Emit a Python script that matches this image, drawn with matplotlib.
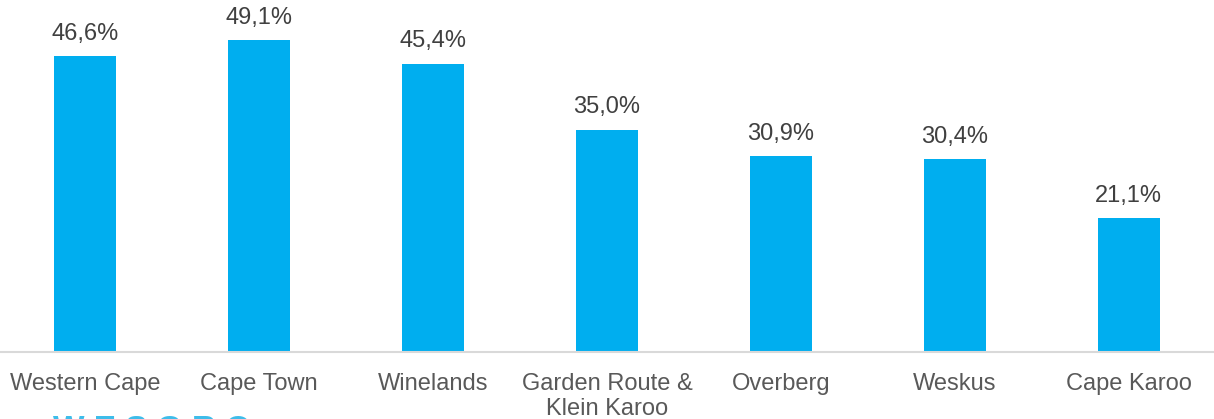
import matplotlib
matplotlib.use('Agg')
from matplotlib import pyplot as plt

# Regions and share values (%)
regions = ["Western Cape", "Cape Town", "Winelands", "Garden Route &\nKlein Karoo",
           "Overberg", "Weskus", "Cape Karoo"]
shares = [46.6, 49.1, 45.4, 35.0, 30.9, 30.4, 21.1]

plt.rcParams['font.family'] = ['Liberation Sans', 'DejaVu Sans']

fig = plt.figure(figsize=(12.14, 4.19), dpi=100)
ax = fig.add_axes([0, 0.16, 1, 0.84])

x = range(len(regions))
bars = ax.bar(x, shares, width=0.357, color='#00AEEF')

# Value labels with comma decimals
for b, v in zip(bars, shares):
    ax.annotate(f"{v:.1f}%".replace('.', ','), (b.get_x() + b.get_width() / 2, v),
                xytext=(0, 8), textcoords='offset points', ha='center', va='bottom',
                fontsize=17, color='#404040')

ax.set_xlim(-0.49, len(regions) - 0.51)
ax.set_ylim(0, 55.4)
ax.set_xticks(list(x))
ax.set_xticklabels(regions, fontsize=17, color='#595959', linespacing=1.16)
ax.tick_params(axis='x', length=0, pad=15)
ax.set_yticks([])

for s in ['top', 'right', 'left']:
    ax.spines[s].set_visible(False)
ax.spines['bottom'].set_color('#D9D9D9')
ax.spines['bottom'].set_linewidth(1.5)

# Partially visible logo at the bottom edge
fig.text(0.044, -0.065, "W E S G R O", fontsize=24, fontweight='bold',
         color='#29B6E8', ha='left', va='bottom', alpha=0.9)

fig.savefig('out.png', dpi=100)
